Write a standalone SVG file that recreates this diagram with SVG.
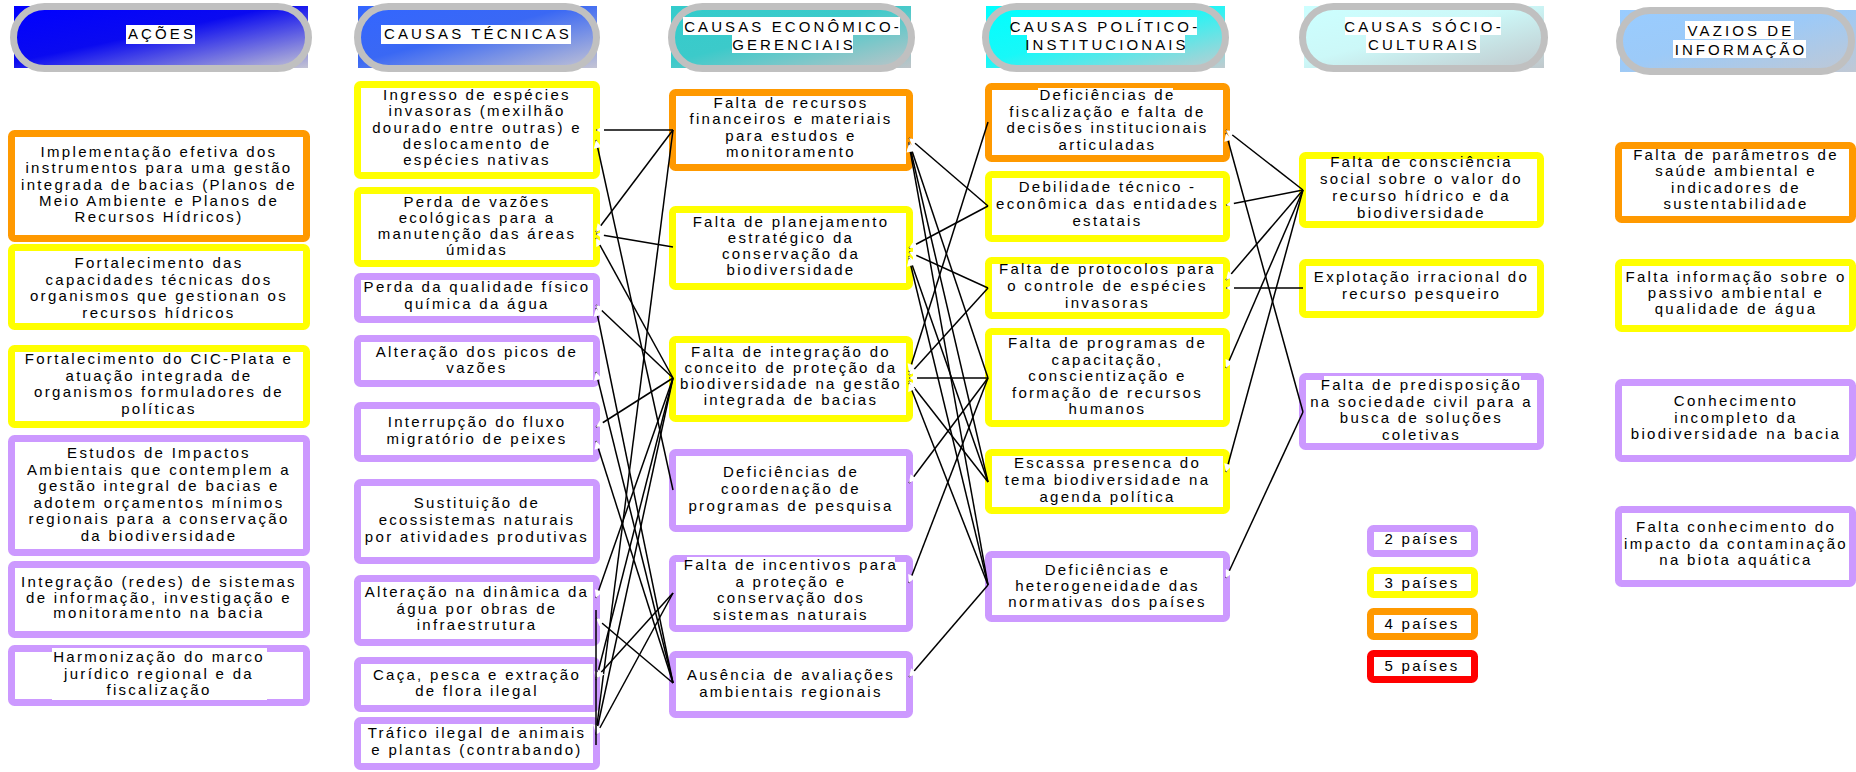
<svg xmlns="http://www.w3.org/2000/svg" width="1856" height="772" viewBox="0 0 1856 772">
<style>
.nd{fill:#fff;stroke-width:7}
.o{stroke:#FF9900}.y{stroke:#FFFF00}.p{stroke:#CC99FF}.r{stroke:#FF0000}
.pill{fill:none;stroke:#C0C0C0;stroke-width:7}
text{font-family:"Liberation Sans",Arial,sans-serif;font-size:15px;fill:#000;text-anchor:middle;letter-spacing:2.3px}
.ht{letter-spacing:3.1px}
.bg{fill:#fff}
#conn line{stroke:#000;stroke-width:1.5;marker-end:url(#ah)}
#conn line.plain{marker-end:none}
</style>
<defs>
<marker id="ah" viewBox="0 0 10 10" refX="10" refY="5" markerWidth="9" markerHeight="8" markerUnits="userSpaceOnUse" orient="auto"><path d="M0,0L10,5L0,10z" fill="#fff"/></marker>
<linearGradient id="g1" x1="0" y1="0" x2="1" y2="1"><stop offset="0" stop-color="#0000FF"/><stop offset="0.45" stop-color="#0A0AF0"/><stop offset="1" stop-color="#C4C4D4"/></linearGradient>
<linearGradient id="g2" x1="0" y1="0" x2="1" y2="1"><stop offset="0" stop-color="#3366FF"/><stop offset="0.45" stop-color="#3A68F4"/><stop offset="1" stop-color="#C4C4D4"/></linearGradient>
<linearGradient id="g3" x1="0" y1="0" x2="1" y2="1"><stop offset="0" stop-color="#33CCCC"/><stop offset="0.45" stop-color="#3CCACA"/><stop offset="1" stop-color="#C0C4C8"/></linearGradient>
<linearGradient id="g4" x1="0" y1="0" x2="1" y2="1"><stop offset="0" stop-color="#00FFFF"/><stop offset="0.45" stop-color="#18F8F8"/><stop offset="1" stop-color="#C0CCD0"/></linearGradient>
<linearGradient id="g5" x1="0" y1="0" x2="1" y2="1"><stop offset="0" stop-color="#CCFFFF"/><stop offset="0.45" stop-color="#CCF8F8"/><stop offset="1" stop-color="#C0C8CC"/></linearGradient>
<linearGradient id="g6" x1="0" y1="0" x2="1" y2="1"><stop offset="0" stop-color="#99CCFF"/><stop offset="0.45" stop-color="#9CCAF8"/><stop offset="1" stop-color="#C0C8D4"/></linearGradient>
</defs>
<rect width="1856" height="772" fill="#fff"/>

<!-- headers -->
<g id="h-acoes"><rect x="14" y="6" width="294" height="62" fill="url(#g1)"/><rect class="pill" x="13.5" y="6.5" width="295" height="62" rx="31"/><rect class="bg" x="126" y="25" width="69" height="19"/><text class="ht" x="162" y="39">AÇÕES</text></g>
<g id="h-tecnicas"><rect x="358" y="6" width="239" height="62" fill="url(#g2)"/><rect class="pill" x="357.5" y="6.5" width="239" height="62" rx="31"/><rect class="bg" x="381" y="25" width="190" height="19"/><text class="ht" x="478" y="39">CAUSAS TÉCNICAS</text></g>
<g id="h-economico"><rect x="671" y="6" width="240" height="62" fill="url(#g3)"/><rect class="pill" x="671.5" y="6.5" width="240" height="62" rx="31"/><rect class="bg" x="683" y="17" width="217" height="18"/><rect class="bg" x="732" y="35" width="121" height="18"/><text class="ht"><tspan x="793" y="32">CAUSAS ECONÔMICO-</tspan><tspan x="794" y="50">GERENCIAIS</tspan></text></g>
<g id="h-politico"><rect x="986" y="6" width="239" height="62" fill="url(#g4)"/><rect class="pill" x="985.5" y="6.5" width="240" height="62" rx="31"/><rect class="bg" x="1011" y="17" width="186" height="18"/><rect class="bg" x="1027" y="35" width="158" height="18"/><text class="ht"><tspan x="1105" y="32">CAUSAS POLÍTICO-</tspan><tspan x="1107" y="50">INSTITUCIONAIS</tspan></text></g>
<g id="h-socio"><rect x="1304" y="6" width="240" height="62" fill="url(#g5)"/><rect class="pill" x="1302.5" y="6.5" width="242" height="62" rx="31"/><rect class="bg" x="1345" y="17" width="156" height="18"/><rect class="bg" x="1366" y="35" width="114" height="18"/><text class="ht"><tspan x="1424" y="32">CAUSAS SÓCIO-</tspan><tspan x="1424" y="50">CULTURAIS</tspan></text></g>
<g id="h-vazios"><rect x="1620" y="10" width="236" height="62" fill="url(#g6)"/><rect class="pill" x="1619.5" y="10.5" width="232" height="61" rx="30.5"/><rect class="bg" x="1685" y="21" width="109" height="18"/><rect class="bg" x="1673" y="40" width="133" height="18"/><text class="ht"><tspan x="1741" y="36">VAZIOS DE</tspan><tspan x="1741" y="55">INFORMAÇÃO</tspan></text></g>

<!-- column 1: ações -->
<g id="a1"><rect class="nd o" x="11.5" y="133.5" width="295" height="105" rx="3"/><text><tspan x="159" y="157">Implementação  efetiva dos</tspan><tspan x="159" y="173.3">instrumentos para uma gestão</tspan><tspan x="159" y="189.6">integrada de bacias (Planos de</tspan><tspan x="159" y="205.9">Meio Ambiente e Planos de</tspan><tspan x="159" y="222.2">Recursos Hídricos)</tspan></text></g>
<g id="a2"><rect class="nd y" x="11.5" y="247.5" width="295" height="79" rx="3"/><text><tspan x="159" y="268">Fortalecimento das</tspan><tspan x="159" y="284.5">capacidades técnicas dos</tspan><tspan x="159" y="301">organismos que gestionan os</tspan><tspan x="159" y="317.5">recursos hídricos</tspan></text></g>
<g id="a3"><rect class="nd y" x="11.5" y="348.5" width="295" height="76" rx="3"/><text><tspan x="159" y="364">Fortalecimento do CIC-Plata e</tspan><tspan x="159" y="380.5">atuação integrada de</tspan><tspan x="159" y="397">organismos formuladores de</tspan><tspan x="159" y="413.5">políticas</tspan></text></g>
<g id="a4"><rect class="nd p" x="11.5" y="438.5" width="295" height="114" rx="3"/><text><tspan x="159" y="458">Estudos de Impactos</tspan><tspan x="159" y="474.5">Ambientais que contemplem a</tspan><tspan x="159" y="491">gestão integral de bacias e</tspan><tspan x="159" y="507.5">adotem orçamentos mínimos</tspan><tspan x="159" y="524">regionais para a conservação</tspan><tspan x="159" y="540.5">da biodiversidade</tspan></text></g>
<g id="a5"><rect class="nd p" x="11.5" y="564.5" width="295" height="70" rx="3"/><text><tspan x="159" y="587">Integração (redes) de sistemas</tspan><tspan x="159" y="602.5">de informação, investigação e</tspan><tspan x="159" y="618">monitoramento na bacia</tspan></text></g>
<g id="a6"><rect class="nd p" x="11.5" y="648.5" width="295" height="54" rx="3"/><rect class="bg" x="52" y="648" width="215" height="52"/><text><tspan x="159" y="662">Harmonização do marco</tspan><tspan x="159" y="678.5">jurídico regional e da</tspan><tspan x="159" y="695">fiscalização</tspan></text></g>

<!-- column 2: causas técnicas -->
<g id="t1"><rect class="nd y" x="357.5" y="84.5" width="239" height="91" rx="3"/><text><tspan x="477" y="100">Ingresso de espécies</tspan><tspan x="477" y="116.3">invasoras (mexilhão</tspan><tspan x="477" y="132.6">dourado entre outras) e</tspan><tspan x="477" y="148.9">deslocamento de</tspan><tspan x="477" y="165.2">espécies nativas</tspan></text></g>
<g id="t2"><rect class="nd y" x="357.5" y="190.5" width="239" height="73" rx="3"/><text><tspan x="477" y="207">Perda de vazões</tspan><tspan x="477" y="223">ecológicas para a</tspan><tspan x="477" y="239">manutenção das áreas</tspan><tspan x="477" y="255">úmidas</tspan></text></g>
<g id="t3"><rect class="nd p" x="357.5" y="276.5" width="239" height="43" rx="3"/><text><tspan x="477" y="292">Perda da qualidade físico</tspan><tspan x="477" y="309">química da água</tspan></text></g>
<g id="t4"><rect class="nd p" x="357.5" y="338.5" width="239" height="45" rx="3"/><text><tspan x="477" y="357">Alteração dos picos de</tspan><tspan x="477" y="373">vazões</tspan></text></g>
<g id="t5"><rect class="nd p" x="357.5" y="405.5" width="239" height="53" rx="3"/><text><tspan x="477" y="427">Interrupção do fluxo</tspan><tspan x="477" y="444">migratório de peixes</tspan></text></g>
<g id="t6"><rect class="nd p" x="357.5" y="482.5" width="239" height="78" rx="3"/><text><tspan x="477" y="508">Sustituição de</tspan><tspan x="477" y="525">ecossistemas naturais</tspan><tspan x="477" y="542">por atividades produtivas</tspan></text></g>
<g id="t7"><rect class="nd p" x="357.5" y="578.5" width="239" height="64" rx="3"/><text><tspan x="477" y="597">Alteração na dinâmica da</tspan><tspan x="477" y="613.5">água por obras de</tspan><tspan x="477" y="630">infraestrutura</tspan></text></g>
<g id="t8"><rect class="nd p" x="357.5" y="660.5" width="239" height="48" rx="3"/><text><tspan x="477" y="680">Caça, pesca e extração</tspan><tspan x="477" y="696">de flora ilegal</tspan></text></g>
<g id="t9"><rect class="nd p" x="357.5" y="720.5" width="239" height="46" rx="3"/><text><tspan x="477" y="738">Tráfico ilegal de animais</tspan><tspan x="477" y="755">e plantas (contrabando)</tspan></text></g>

<!-- column 3: econômico-gerenciais -->
<g id="e1"><rect class="nd o" x="672.5" y="92.5" width="237" height="75" rx="3"/><text><tspan x="791" y="108">Falta de recursos</tspan><tspan x="791" y="124.3">financeiros e materiais</tspan><tspan x="791" y="140.6">para estudos e</tspan><tspan x="791" y="156.9">monitoramento</tspan></text></g>
<g id="e2"><rect class="nd y" x="672.5" y="209.5" width="237" height="77" rx="3"/><text><tspan x="791" y="227">Falta de planejamento</tspan><tspan x="791" y="243">estratégico da</tspan><tspan x="791" y="259">conservação da</tspan><tspan x="791" y="275">biodiversidade</tspan></text></g>
<g id="e3"><rect class="nd y" x="672.5" y="339.5" width="237" height="79" rx="3"/><text><tspan x="791" y="357">Falta de integração do</tspan><tspan x="791" y="373">conceito de proteção da</tspan><tspan x="791" y="389">biodiversidade na gestão</tspan><tspan x="791" y="405">integrada de bacias</tspan></text></g>
<g id="e4"><rect class="nd p" x="672.5" y="452.5" width="237" height="76" rx="3"/><text><tspan x="791" y="477">Deficiências de</tspan><tspan x="791" y="494">coordenação de</tspan><tspan x="791" y="511">programas de pesquisa</tspan></text></g>
<g id="e5"><rect class="nd p" x="672.5" y="558.5" width="237" height="70" rx="3"/><rect class="bg" x="687" y="557" width="208" height="55"/><text><tspan x="791" y="570">Falta de incentivos para</tspan><tspan x="791" y="586.5">a proteção e</tspan><tspan x="791" y="603">conservação dos</tspan><tspan x="791" y="619.5">sistemas naturais</tspan></text></g>
<g id="e6"><rect class="nd p" x="672.5" y="654.5" width="237" height="60" rx="3"/><text><tspan x="791" y="680">Ausência de avaliações</tspan><tspan x="791" y="697">ambientais regionais</tspan></text></g>

<!-- column 4: político-institucionais -->
<g id="p1"><rect class="nd o" x="988.5" y="86.5" width="238" height="72" rx="3"/><rect class="bg" x="1038" y="88" width="135" height="15"/><text><tspan x="1107.5" y="100">Deficiências de</tspan><tspan x="1107.5" y="116.5">fiscalização e falta de</tspan><tspan x="1107.5" y="133">decisões institucionais</tspan><tspan x="1107.5" y="149.5">articuladas</tspan></text></g>
<g id="p2"><rect class="nd y" x="988.5" y="174.5" width="238" height="64" rx="3"/><text><tspan x="1107.5" y="192">Debilidade técnico -</tspan><tspan x="1107.5" y="209">econômica das entidades</tspan><tspan x="1107.5" y="226">estatais</tspan></text></g>
<g id="p3"><rect class="nd y" x="988.5" y="260.5" width="238" height="55" rx="3"/><text><tspan x="1107.5" y="274">Falta de protocolos para</tspan><tspan x="1107.5" y="291">o controle de espécies</tspan><tspan x="1107.5" y="308">invasoras</tspan></text></g>
<g id="p4"><rect class="nd y" x="988.5" y="331.5" width="238" height="92" rx="3"/><text><tspan x="1107.5" y="348">Falta de programas de</tspan><tspan x="1107.5" y="364.5">capacitação,</tspan><tspan x="1107.5" y="381">conscientização e</tspan><tspan x="1107.5" y="397.5">formação de recursos</tspan><tspan x="1107.5" y="414">humanos</tspan></text></g>
<g id="p5"><rect class="nd y" x="988.5" y="452.5" width="238" height="58" rx="3"/><text><tspan x="1107.5" y="468">Escassa presenca do</tspan><tspan x="1107.5" y="485">tema biodiversidade na</tspan><tspan x="1107.5" y="502">agenda política</tspan></text></g>
<g id="p6"><rect class="nd p" x="988.5" y="554.5" width="238" height="64" rx="3"/><text><tspan x="1107.5" y="575">Deficiências  e</tspan><tspan x="1107.5" y="591">heterogeneidade das</tspan><tspan x="1107.5" y="607">normativas dos países</tspan></text></g>

<!-- column 5: sócio-culturais -->
<g id="s1"><rect class="nd y" x="1302.5" y="155.5" width="238" height="69" rx="3"/><text><tspan x="1421.5" y="167">Falta de consciência</tspan><tspan x="1421.5" y="184">social sobre o valor do</tspan><tspan x="1421.5" y="201">recurso hídrico e da</tspan><tspan x="1421.5" y="218">biodiversidade</tspan></text></g>
<g id="s2"><rect class="nd y" x="1302.5" y="262.5" width="238" height="52" rx="3"/><text><tspan x="1421.5" y="282">Explotação irracional do</tspan><tspan x="1421.5" y="299">recurso pesqueiro</tspan></text></g>
<g id="s3"><rect class="nd p" x="1302.5" y="376.5" width="238" height="70" rx="3"/><rect class="bg" x="1324" y="376" width="197" height="16"/><text><tspan x="1421.5" y="390">Falta de predisposição</tspan><tspan x="1421.5" y="406.5">na sociedade civil para a</tspan><tspan x="1421.5" y="423">busca de soluções</tspan><tspan x="1421.5" y="439.5">coletivas</tspan></text></g>

<!-- legend -->
<g id="leg2"><rect class="nd p" x="1370.5" y="528.5" width="104" height="25" rx="3"/><text x="1422" y="544">2 países</text></g>
<g id="leg3"><rect class="nd y" x="1370.5" y="570.5" width="104" height="24" rx="3"/><text x="1422" y="588">3 países</text></g>
<g id="leg4"><rect class="nd o" x="1370.5" y="611.5" width="104" height="25" rx="3"/><text x="1422" y="629">4 países</text></g>
<g id="leg5"><rect class="nd r" x="1370.5" y="653.5" width="104" height="26" rx="3"/><text x="1422" y="671">5 países</text></g>

<!-- column 6: vazios de informação -->
<g id="v1"><rect class="nd o" x="1618.5" y="145.5" width="234" height="74" rx="3"/><text><tspan x="1736" y="160">Falta de parâmetros de</tspan><tspan x="1736" y="176.3">saúde ambiental e</tspan><tspan x="1736" y="192.6">indicadores de</tspan><tspan x="1736" y="209">sustentabilidade</tspan></text></g>
<g id="v2"><rect class="nd y" x="1618.5" y="262.5" width="234" height="66" rx="3"/><text><tspan x="1736" y="282">Falta informação sobre o</tspan><tspan x="1736" y="298">passivo ambiental e</tspan><tspan x="1736" y="314">qualidade de água</tspan></text></g>
<g id="v3"><rect class="nd p" x="1618.5" y="382.5" width="234" height="76" rx="3"/><text><tspan x="1736" y="406">Conhecimento</tspan><tspan x="1736" y="422.5">incompleto da</tspan><tspan x="1736" y="439">biodiversidade na bacia</tspan></text></g>
<g id="v4"><rect class="nd p" x="1618.5" y="509.5" width="234" height="74" rx="3"/><text><tspan x="1736" y="532">Falta conhecimento do</tspan><tspan x="1736" y="548.5">impacto da contaminação</tspan><tspan x="1736" y="565">na biota aquática</tspan></text></g>

<!-- connectors -->
<g id="conn">
<line x1="673" y1="130" x2="596" y2="130"/>
<line x1="673" y1="130" x2="596" y2="232"/>
<line x1="673" y1="130" x2="596" y2="733"/>
<line x1="673" y1="247" x2="596" y2="234"/>
<line x1="673" y1="378" x2="596" y2="238"/>
<line x1="673" y1="378" x2="596" y2="305"/>
<line x1="673" y1="378" x2="596" y2="427"/>
<line x1="673" y1="378" x2="596" y2="598"/>
<line x1="673" y1="378" x2="596" y2="680"/>
<line x1="673" y1="378" x2="596" y2="734"/>
<line x1="673" y1="490" x2="596" y2="140"/>
<line x1="673" y1="593" x2="596" y2="678"/>
<line x1="673" y1="593" x2="596" y2="735"/>
<line x1="673" y1="683" x2="596" y2="308"/>
<line x1="673" y1="683" x2="596" y2="372"/>
<line x1="673" y1="683" x2="596" y2="441"/>
<line x1="673" y1="683" x2="596" y2="618"/>
<line class="plain" x1="596" y1="745" x2="596" y2="610"/>
<line x1="988" y1="122" x2="909" y2="372"/>
<line x1="988" y1="206" x2="909" y2="138"/>
<line x1="988" y1="206" x2="909" y2="248"/>
<line x1="988" y1="288" x2="909" y2="252"/>
<line x1="988" y1="288" x2="909" y2="375"/>
<line x1="988" y1="378" x2="909" y2="142"/>
<line x1="988" y1="378" x2="909" y2="378"/>
<line x1="988" y1="378" x2="909" y2="483"/>
<line x1="988" y1="378" x2="909" y2="583"/>
<line x1="988" y1="482" x2="909" y2="143"/>
<line x1="988" y1="482" x2="909" y2="256"/>
<line x1="988" y1="482" x2="909" y2="381"/>
<line x1="988" y1="585" x2="909" y2="144"/>
<line x1="988" y1="585" x2="909" y2="258"/>
<line x1="988" y1="585" x2="909" y2="383"/>
<line x1="988" y1="585" x2="909" y2="677"/>
<line x1="1303" y1="190" x2="1226" y2="130"/>
<line x1="1303" y1="190" x2="1226" y2="205"/>
<line x1="1303" y1="190" x2="1226" y2="280"/>
<line x1="1303" y1="190" x2="1226" y2="368"/>
<line x1="1303" y1="190" x2="1226" y2="472"/>
<line x1="1303" y1="288" x2="1226" y2="288"/>
<line x1="1303" y1="412" x2="1226" y2="133"/>
<line x1="1303" y1="412" x2="1226" y2="578"/>
</g>
</svg>
